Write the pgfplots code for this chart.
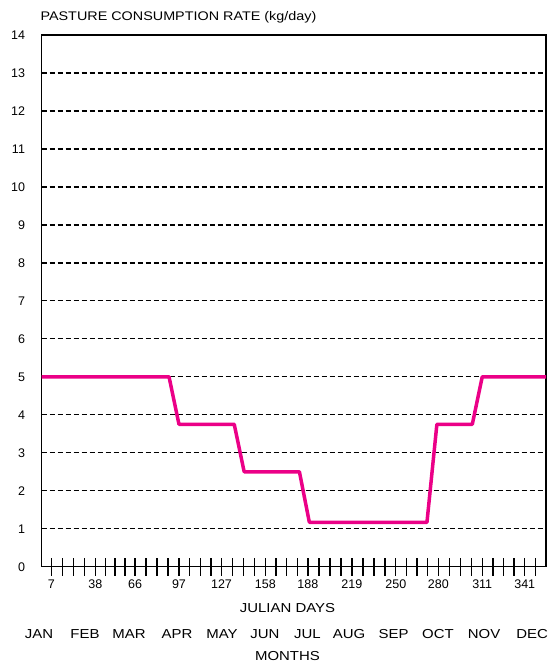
\documentclass[border=0pt]{standalone}
\usepackage{fontspec}
\setmainfont{Liberation Sans}
\newfontfamily\widefont{Liberation Sans}[FakeStretch=1.15]
\usepackage{pgfplots}
\pgfplotsset{compat=1.18}
\definecolor{pinkline}{RGB}{235,0,135}
\begin{document}
\begin{tikzpicture}[x=1pt,y=1pt]
\useasboundingbox (-41.5,-99.3) rectangle (506.5,566.7);
\begin{axis}[
  at={(0,0)}, anchor=south west,
  scale only axis, width=504.5pt, height=531.7pt,
  xmin=0, xmax=356, ymin=0, ymax=14,
  xtick={7,38,66,97,127,158,188,219,250,280,311,341},
  minor xtick={14.75,22.5,30.25,45,52,59,73.75,81.5,89.25,104.5,112,119.5,134.75,142.5,150.25,165.5,173,180.5,195.75,203.5,211.25,226.75,234.5,242.25,257.5,265,272.5,287.75,295.5,303.25,318.5,326,333.5,348.5},
  ytick={0,...,14},
  axis line style={black, line width=1.5pt},
  ymajorgrids,
  major grid style={black, line width=1.3pt, dash pattern=on 5pt off 3pt},
  tick align=center,
  major tick length=18pt, minor tick length=18pt,
  every tick/.style={black, line width=1.4pt},
  ytick style={draw=none},
  xtick pos=bottom,
  /pgf/number format/assume math mode=true,
  tick label style={font=\fontsize{12.5}{13}\selectfont},
  yticklabel style={xshift=-4pt},
  xticklabel style={yshift=-1pt},
  clip=false,
]
\addplot[pinkline, line width=3.5pt, line join=round] coordinates {
(0,5) (90,5) (97,3.75) (136,3.75) (143,2.5) (182,2.5) (189,1.17) (272,1.17) (279,3.75) (304,3.75) (311,5) (356,5)
};
\node[anchor=base west, font=\widefont\fontsize{12.5}{13}\selectfont] at (rel axis cs:0,1) [xshift=-4.5pt, yshift=14pt] {PASTURE CONSUMPTION RATE (kg/day)};
\node[font=\widefont\fontsize{13}{14}\selectfont] at (rel axis cs:0.4876,0) [yshift=-41.5pt] {JULIAN DAYS};
\node[font=\widefont\fontsize{13}{14}\selectfont] at (rel axis cs:0.4876,0) [yshift=-89pt] {MONTHS};
\node[font=\widefont\fontsize{13}{14}\selectfont] at (axis cs:-1.8,0) [yshift=-67.5pt] {JAN};
\node[font=\widefont\fontsize{13}{14}\selectfont] at (axis cs:30.7,0) [yshift=-67.5pt] {FEB};
\node[font=\widefont\fontsize{13}{14}\selectfont] at (axis cs:61.7,0) [yshift=-67.5pt] {MAR};
\node[font=\widefont\fontsize{13}{14}\selectfont] at (axis cs:95.6,0) [yshift=-67.5pt] {APR};
\node[font=\widefont\fontsize{13}{14}\selectfont] at (axis cs:127.4,0) [yshift=-67.5pt] {MAY};
\node[font=\widefont\fontsize{13}{14}\selectfont] at (axis cs:157.7,0) [yshift=-67.5pt] {JUN};
\node[font=\widefont\fontsize{13}{14}\selectfont] at (axis cs:187.7,0) [yshift=-67.5pt] {JUL};
\node[font=\widefont\fontsize{13}{14}\selectfont] at (axis cs:217,0) [yshift=-67.5pt] {AUG};
\node[font=\widefont\fontsize{13}{14}\selectfont] at (axis cs:248.4,0) [yshift=-67.5pt] {SEP};
\node[font=\widefont\fontsize{13}{14}\selectfont] at (axis cs:279.8,0) [yshift=-67.5pt] {OCT};
\node[font=\widefont\fontsize{13}{14}\selectfont] at (axis cs:312.3,0) [yshift=-67.5pt] {NOV};
\node[font=\widefont\fontsize{13}{14}\selectfont] at (axis cs:346.2,0) [yshift=-67.5pt] {DEC};
\end{axis}
\end{tikzpicture}
\end{document}
